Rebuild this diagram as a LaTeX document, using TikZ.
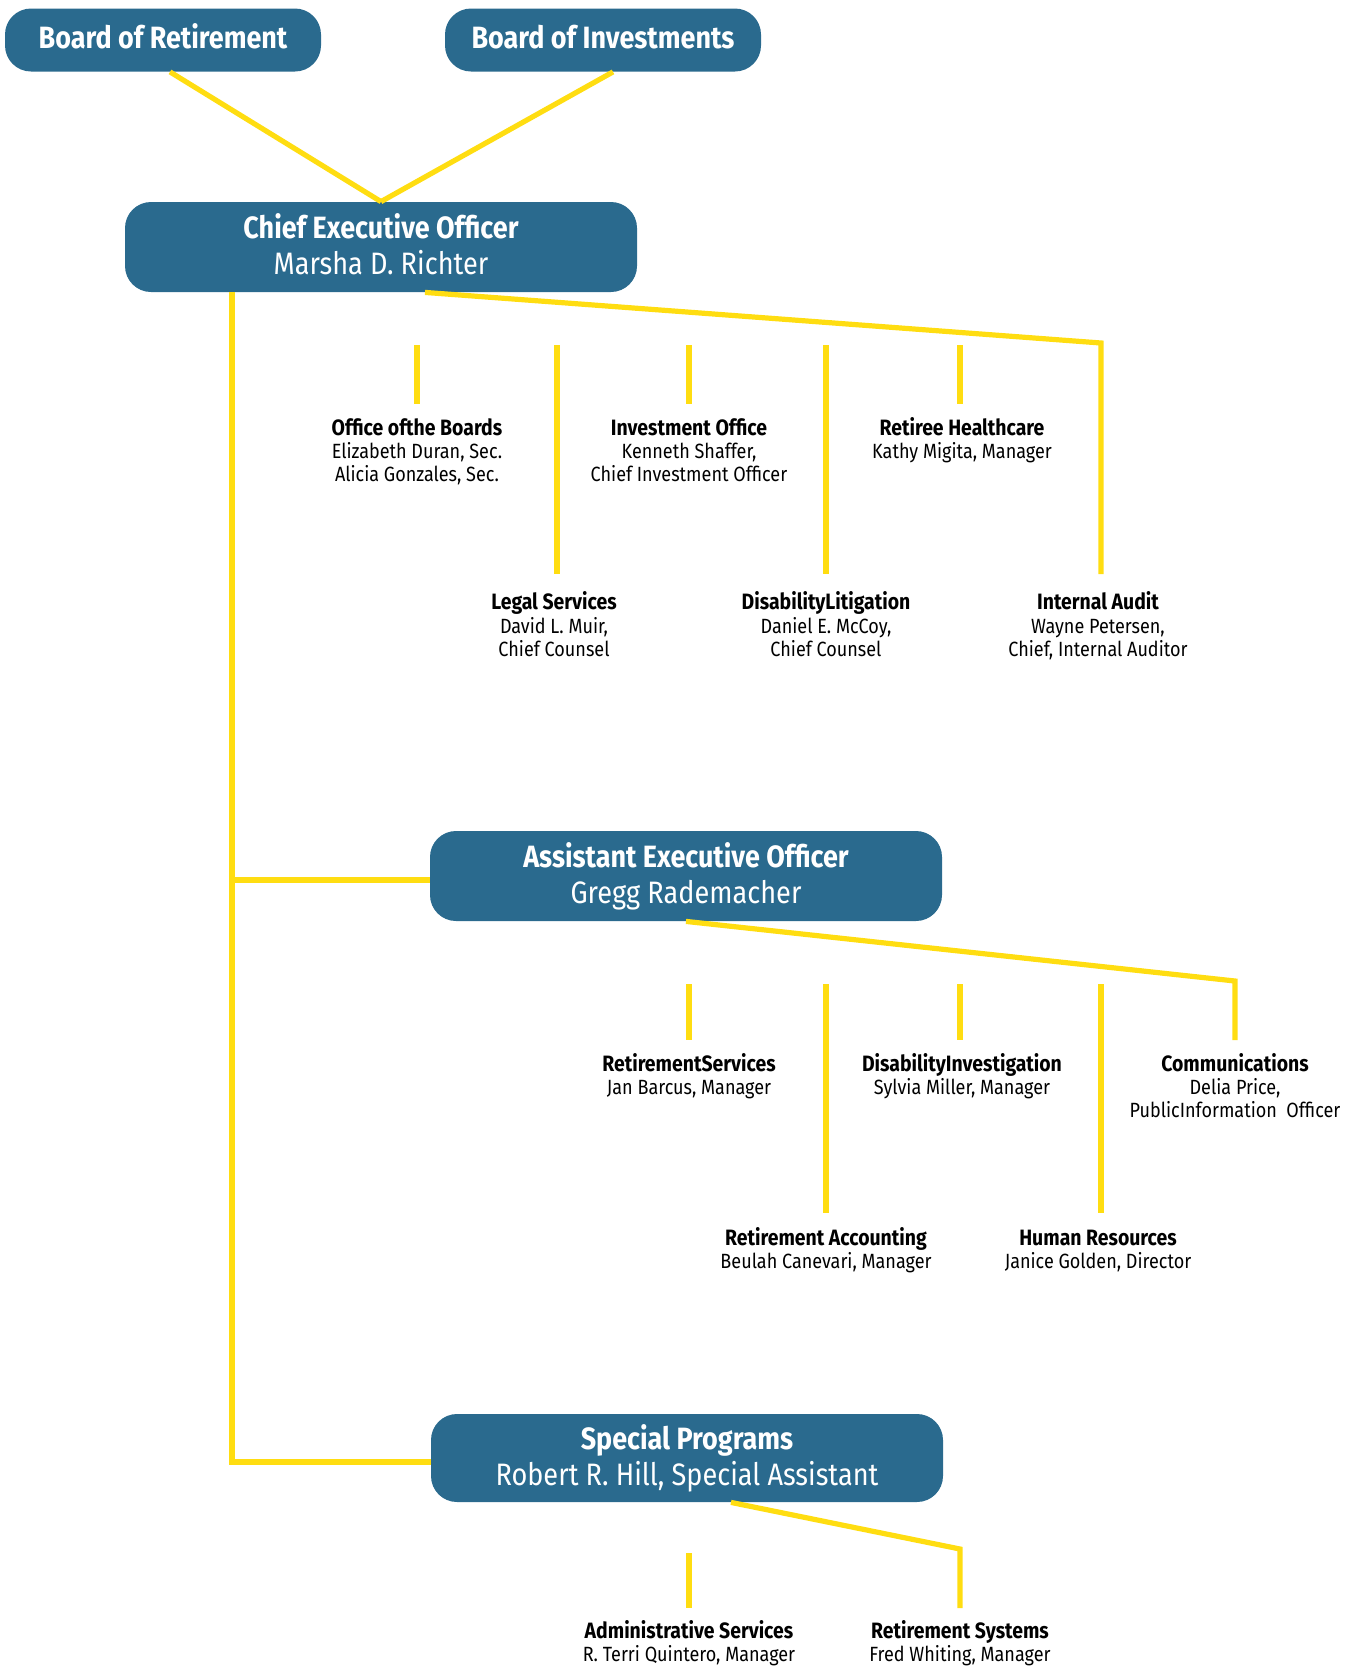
\documentclass[tikz,border=0pt]{standalone}
\usepackage{fontspec}
\setmainfont{Fira Sans}[FakeStretch=0.875]
\usetikzlibrary{positioning}
\definecolor{boxblue}{HTML}{2A6A8E}
\definecolor{linkyellow}{HTML}{FFDD11}
\tikzset{
  brd/.style  = {fill=boxblue, text=white, rounded corners=13pt, align=center,
                 inner sep=0pt},
  board/.style= {brd, minimum width=158pt, minimum height=31.5pt,
                 font=\bfseries\fontsize{15.4}{18}\selectfont},
  hd/.style   = {brd, minimum width=256pt, minimum height=45pt,
                 font=\fontsize{15.5}{18}\selectfont},
  unit/.style = {anchor=north, align=center, inner xsep=0pt, inner ysep=6.3pt,
                 font=\fontsize{10.3}{11.7}\selectfont},
  link/.style = {draw=linkyellow, line width=2.6pt},
}
\newcommand{\bdtext}[1]{\rule[-3.5pt]{0pt}{13pt}#1}
\newcommand{\hdtitle}[1]{{\bfseries\fontsize{15.4}{18}\selectfont\rule{0pt}{12pt}#1}}
\newcommand{\hdname}[1]{\rule[-3.5pt]{0pt}{3.5pt}#1}
\newcommand{\utitle}[1]{{\bfseries\fontsize{11.1}{11.7}\selectfont\rule{0pt}{9pt}#1}}

\begin{document}
\begin{tikzpicture}[x=0.5pt, y=-0.5pt]
  \useasboundingbox (0,0) rectangle (1349,1667);
  % boards and officers
  \node[board] (bor) at (163,40) {\bdtext{Board of Retirement}};
  \node[board] (boi) at (603,40) {\bdtext{Board of Investments}};
  \node[hd] (ceo) at (381,247) {\hdtitle{Chief Executive Officer}\\\hdname{Marsha D. Richter}};
  \node[hd] (aeo) at (686,876) {\hdtitle{Assistant Executive Officer}\\\hdname{Gregg Rademacher}};
  \node[hd, minimum height=44pt] (sp) at (687,1458) {\hdtitle{Special Programs}\\\hdname{Robert R. Hill, Special Assistant}};
  % units under the CEO
  \node[unit] (ob)  at (417,404)  {\utitle{Office ofthe Boards}\\Elizabeth Duran, Sec.\\Alicia Gonzales, Sec.};
  \node[unit] (io)  at (689,404)  {\utitle{Investment Office}\\Kenneth Shaffer,\\Chief Investment Officer};
  \node[unit] (rh)  at (962,404)  {\utitle{Retiree Healthcare}\\Kathy Migita, Manager};
  \node[unit, inner ysep=8.6pt] (ls)  at (554,574)  {\utitle{Legal Services}\\David L. Muir,\\Chief Counsel};
  \node[unit, inner ysep=8.6pt] (dl)  at (826,574)  {\utitle{DisabilityLitigation}\\Daniel E. McCoy,\\Chief Counsel};
  \node[unit, inner ysep=8.6pt] (ia)  at (1098,574) {\utitle{Internal Audit}\\Wayne Petersen,\\Chief, Internal Auditor};
  % units under the AEO
  \node[unit] (rsv) at (689,1040)  {\utitle{RetirementServices}\\Jan Barcus, Manager};
  \node[unit] (di)  at (962,1040)  {\utitle{DisabilityInvestigation}\\Sylvia Miller, Manager};
  \node[unit] (com) at (1235,1040) {\utitle{Communications}\\Delia Price,\\PublicInformation\ \ Officer};
  \node[unit, inner ysep=7pt] (ra)  at (826,1213)  {\utitle{Retirement Accounting}\\Beulah Canevari, Manager};
  \node[unit, inner ysep=7pt] (hr)  at (1098,1213) {\utitle{Human Resources}\\Janice Golden, Director};
  % units under special programs
  \node[unit, inner ysep=6pt] (as)  at (689,1608) {\utitle{Administrative Services}\\R. Terri Quintero, Manager};
  \node[unit, inner ysep=6pt] (rsy) at (960,1608) {\utitle{Retirement Systems}\\Fred Whiting, Manager};
  % tick tops and corners
  \coordinate (ob-t)  at (417,345);
  \coordinate (ls-t)  at (557,345);
  \coordinate (io-t)  at (689,345);
  \coordinate (dl-t)  at (826,345);
  \coordinate (rh-t)  at (960,345);
  \coordinate (ia-t)  at (1101,343);
  \coordinate (rsv-t) at (689,984);
  \coordinate (ra-t)  at (826,984);
  \coordinate (di-t)  at (960,984);
  \coordinate (hr-t)  at (1101,984);
  \coordinate (com-t) at (1235,981);
  \coordinate (as-t)  at (689,1553);
  \coordinate (rsy-t) at (960,1549);
  \coordinate (trunk) at (232,292);
  % connectors
  \draw[link] ([xshift=3.5pt]bor.south) -- (ceo.north);
  \draw[link] ([xshift=5pt]boi.south) -- (ceo.north);
  \draw[link] (trunk) |- ([yshift=-2pt]sp.west);
  \draw[link] (trunk |- aeo.west) ++(0,4) -- ([yshift=-2pt]aeo.west);
  \draw[link] ([xshift=22pt]ceo.south) -- (ia-t) -- (ia-t |- ia.north);
  \foreach \u in {ob, ls, io, dl, rh}
    \draw[link] (\u-t) -- (\u-t |- \u.north);
  \draw[link] (aeo.south) -- (com-t) -- (com-t |- com.north);
  \foreach \u in {rsv, ra, di, hr}
    \draw[link] (\u-t) -- (\u-t |- \u.north);
  \draw[link] ([xshift=22pt]sp.south) -- (rsy-t) -- (rsy-t |- rsy.north);
  \draw[link] (as-t) -- (as-t |- as.north);
\end{tikzpicture}
\end{document}
